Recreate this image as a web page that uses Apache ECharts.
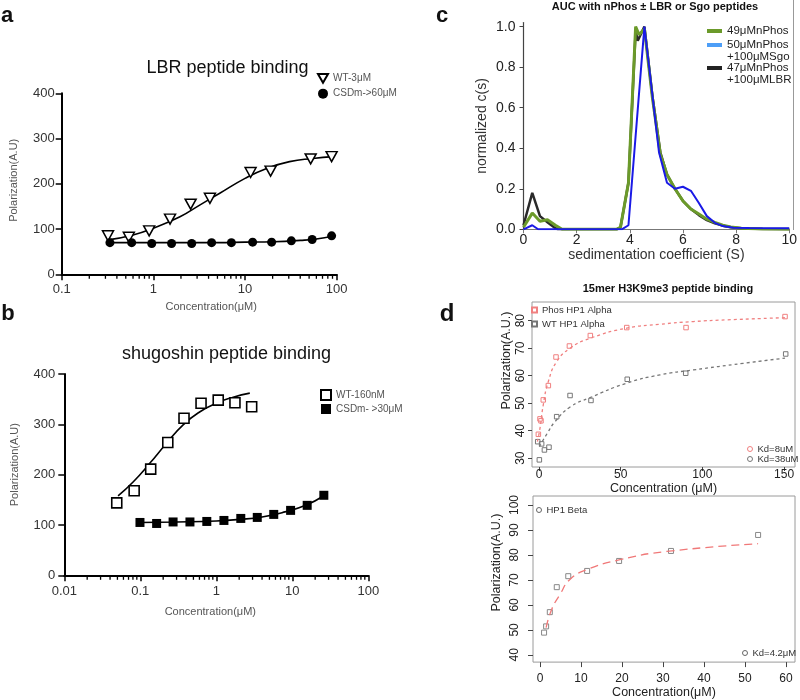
<!DOCTYPE html>
<html><head><meta charset="utf-8">
<script src="https://cdn.jsdelivr.net/npm/echarts@6/dist/echarts.min.js"></script>
<style>html,body{margin:0;padding:0;background:#fff}#c{width:800px;height:700px}</style>
</head><body><div id="c"></div>
<script>
// ---------- Panel a : LBR peptide binding ----------
const aWtX = [0.32, 0.54, 0.90, 1.52, 2.55, 4.14, 11.5, 19, 52, 88];
const aWtY = [85, 82, 96, 122, 155, 168, 225, 228, 255, 260];
const aWtFitX = [0.32, 0.6, 1, 1.95, 3.2, 5.3, 10, 17.2, 30.6, 55, 91];
const aWtFitY = [76, 87, 102, 127, 153, 179, 212, 234, 249, 256, 260];
const aMutX = [0.336, 0.58, 0.96, 1.58, 2.62, 4.32, 7.1, 12.1, 19.5, 32, 54, 88];
const aMutY = [70, 70, 68, 68, 68, 70, 70, 71, 71, 74, 77, 85];
const aMutFitX = [0.33, 1, 5, 10, 20, 40, 60, 90];
const aMutFitY = [70, 70, 70, 71, 72, 75, 78, 84];

// ---------- Panel b : shugoshin peptide binding ----------
const bWtX = [0.049, 0.083, 0.137, 0.23, 0.376, 0.63, 1.06, 1.76, 2.92];
const bWtY = [144, 168, 211, 264, 312, 342, 348, 343, 335];
const bWtFitX = [0.051, 0.081, 0.134, 0.22, 0.366, 0.61, 1.0, 1.67, 2.76];
const bWtFitY = [158, 186, 223, 262, 299, 325, 342, 354, 362];
const bMutX = [0.099, 0.164, 0.27, 0.45, 0.75, 1.26, 2.1, 3.46, 5.7, 9.5, 15.7, 26];
const bMutY = [105, 103, 106, 106, 107, 109, 113, 115, 121, 129, 139, 159];
const bMutFitX = [0.1, 0.3, 1, 2, 4, 8, 15, 26];
const bMutFitY = [105, 106, 108, 111, 116, 126, 139, 158];

// ---------- Panel c : AUC ----------
const cGreenX = [0, 0.33, 0.62, 0.9, 1.2, 1.45, 3.5, 3.65, 3.95, 4.22, 4.35, 4.55, 4.85, 5.15, 5.4, 5.7, 6.0, 6.3, 6.6, 6.9, 7.2, 7.5, 7.8, 8.2, 9, 10];
const cGreenY = [0.01, 0.08, 0.04, 0.047, 0.02, 0, 0, 0.01, 0.23, 1.0, 0.96, 0.99, 0.65, 0.37, 0.27, 0.2, 0.14, 0.1, 0.075, 0.05, 0.034, 0.02, 0.012, 0.005, 0.002, 0];
const cBlackX = [0, 0.33, 0.62, 0.9, 1.15, 1.3, 3.5, 3.65, 3.95, 4.22, 4.3, 4.55, 4.85, 5.15, 5.4, 5.7, 6.0, 6.3, 6.6, 6.9, 7.2, 7.5, 7.8, 8.2, 9, 10];
const cBlackY = [0.02, 0.18, 0.065, 0.035, 0.01, 0, 0, 0.01, 0.23, 0.98, 0.93, 1.0, 0.66, 0.38, 0.27, 0.2, 0.14, 0.1, 0.07, 0.045, 0.03, 0.018, 0.01, 0.005, 0.002, 0];
const cBlueX = [0, 0.33, 0.55, 3.7, 3.95, 4.55, 4.8, 5.1, 5.4, 5.7, 6.0, 6.3, 6.6, 6.9, 7.2, 7.5, 7.9, 8.5, 10];
const cBlueY = [0, 0.02, 0, 0, 0.02, 1.0, 0.72, 0.38, 0.23, 0.2, 0.21, 0.19, 0.13, 0.065, 0.032, 0.016, 0.008, 0.006, 0.005];

// ---------- Panel d (top) : HP1 alpha ----------
const dPhosX = [-0.4, 0.6, 1.2, 2.6, 5.7, 10.4, 18.6, 31.4, 53.7, 90, 150.6];
const dPhosY = [38.7, 44.3, 43.6, 51.2, 56.4, 66.8, 70.8, 74.6, 77.5, 77.5, 81.5];
const dPhosFitX = [-1, 0.6, 2.6, 5.7, 10.8, 19, 31.2, 53.7, 74, 94.5, 115, 150.6];
const dPhosFitY = [36, 40.9, 49.4, 57.9, 65.1, 70, 73.6, 77.3, 78.7, 79.7, 80.3, 81.1];
const dWtX = [-0.8, 0.2, 1.6, 3.3, 6.1, 10.8, 19, 31.8, 54, 89.8, 151];
const dWtY = [36, 29.4, 35.2, 33, 34, 45.1, 52.8, 51, 58.7, 60.9, 67.9];
const dWtFitX = [0.2, 5, 9.8, 19, 31.2, 53.7, 74, 94.5, 125, 150.6];
const dWtFitY = [34.2, 39, 43.3, 48.6, 52, 57.3, 60.3, 62.1, 64.5, 66.4];

// ---------- Panel d (bottom) : HP1 beta ----------
const eBetaX = [1.0, 1.5, 2.4, 4.1, 6.9, 11.5, 19.3, 31.95, 53.2];
const eBetaY = [48.9, 51.4, 57.1, 67.1, 71.5, 73.6, 77.6, 81.6, 88.0];
const eFitX = [1.5, 2.85, 4.9, 7.3, 11.4, 19.5, 30.9, 53.2];
const eFitY = [50.9, 58.2, 64.2, 70.2, 74.1, 78.1, 81.4, 84.5];

// tick positions
const cYTicks = [0, 0.2, 0.4, 0.6, 0.8, 1.0];
const dXTicks = [0, 50, 100, 150];
const dYTicks = [30, 40, 50, 60, 70, 80];
const eXTicks = [0, 10, 20, 30, 40, 50, 60];
const eYTicks = [40, 50, 60, 70, 80, 90, 100];
const aDecades = [0.1, 1, 10];
const bDecades = [0.01, 0.1, 1, 10];
const minorMult = [2, 3, 4, 5, 6, 7, 8, 9];

const FONT = 'Liberation Sans, Arial, Helvetica, sans-serif';
const DOWN_TRI = 'path://M0,0L2,0L1,1.732Z';
const zip = (xs, ys) => xs.map((x, i) => [x, ys[i]]);
const minorTicks = decs => decs.flatMap(d => minorMult.map(m => [+(d * m).toPrecision(3), 0]));

const chart = echarts.init(document.getElementById('c'));

const gpAxisLine = {show: true, onZero: false, lineStyle: {color: '#000', width: 2}};
const gpTick = {show: true, length: 6, lineStyle: {color: '#000', width: 1.5}};

function rX(grid, min, max, ticks, name, gap, tickLen, lblMargin) {
  return {
    gridIndex: grid, type: 'value', min: min, max: max,
    axisLine: {show: false, onZero: false},
    axisTick: {show: true, length: tickLen, customValues: ticks, lineStyle: {color: '#444'}},
    axisLabel: {customValues: ticks, fontSize: 12, color: '#222', margin: lblMargin, fontFamily: FONT},
    splitLine: {show: false},
    name: name, nameLocation: 'middle', nameGap: gap,
    nameTextStyle: {fontSize: 12.5, color: '#222', fontFamily: FONT}
  };
}
function rY(grid, min, max, ticks, name, gap, pad, tickLen, lblMargin) {
  return {
    gridIndex: grid, type: 'value', min: min, max: max,
    axisLine: {show: false, onZero: false},
    axisTick: {show: true, length: tickLen, customValues: ticks, lineStyle: {color: '#444'}},
    axisLabel: {customValues: ticks, fontSize: 12, color: '#222', margin: lblMargin, rotate: 90, fontFamily: FONT},
    splitLine: {show: false},
    name: name, nameLocation: 'middle', nameGap: gap, nameRotate: 90,
    nameTextStyle: {fontSize: 12.5, color: '#222', fontFamily: FONT, padding: [0, 0, 0, pad]}
  };
}
function minorSeries(ax, decs) {
  return {type: 'scatter', name: 'minor' + ax, xAxisIndex: ax, yAxisIndex: ax, data: minorTicks(decs),
    symbol: 'rect', symbolSize: [1.3, 4], symbolOffset: [0, 2.5], clip: false, silent: true,
    itemStyle: {color: '#000', opacity: 1}, z: 1};
}

const option = {
  animation: false,
  backgroundColor: '#fff',
  textStyle: {fontFamily: FONT},
  grid: [
    {left: 61.7, top: 93.3, width: 275, height: 181},
    {left: 64.3, top: 374, width: 304, height: 201.3},
    {left: 523.5, top: 22.6, width: 270, height: 206.7},
    {left: 532, top: 302, width: 263, height: 165, show: true, borderColor: '#9a9a9a', borderWidth: 1},
    {left: 533, top: 496, width: 262, height: 167, show: true, borderColor: '#9a9a9a', borderWidth: 1}
  ],
  xAxis: [
    {gridIndex: 0, type: 'log', logBase: 10, min: 0.1, max: 100,
     axisLine: gpAxisLine, axisTick: gpTick, splitLine: {show: false},
     axisLabel: {fontSize: 13, color: '#333', margin: 9},
     name: 'Concentration(μM)', nameLocation: 'middle', nameGap: 27,
     nameTextStyle: {fontSize: 11, color: '#555', padding: [0, 0, 0, 24]}},
    {gridIndex: 1, type: 'log', logBase: 10, min: 0.01, max: 100,
     axisLine: gpAxisLine, axisTick: gpTick, splitLine: {show: false},
     axisLabel: {fontSize: 13, color: '#333', margin: 10},
     name: 'Concentration(μM)', nameLocation: 'middle', nameGap: 31,
     nameTextStyle: {fontSize: 11, color: '#555', padding: [0, 12, 0, 0]}},
    {gridIndex: 2, type: 'value', min: 0, max: 10, interval: 2,
     axisLine: {show: true, onZero: false, lineStyle: {color: '#777', width: 1.2}},
     axisTick: {show: true, length: 4, lineStyle: {color: '#777'}},
     axisLabel: {fontSize: 14, color: '#222', margin: 4},
     splitLine: {show: false},
     name: 'sedimentation coefficient (S)', nameLocation: 'middle', nameGap: 13,
     nameTextStyle: {fontSize: 14, color: '#333'}},
    rX(3, -4.3, 156.7, dXTicks, 'Concentration (μM)', 8, 4, 2),
    rX(4, -1.7, 62.2, eXTicks, 'Concentration(μM)', 23, 5, 11)
  ],
  yAxis: [
    {gridIndex: 0, type: 'value', min: 0, max: 400, interval: 100,
     axisLine: gpAxisLine, axisTick: gpTick, splitLine: {show: false},
     axisLabel: {fontSize: 13, color: '#333', margin: 7},
     name: 'Polarization(A.U)', nameLocation: 'middle', nameGap: 42, nameRotate: 90,
     nameTextStyle: {fontSize: 11, color: '#555', padding: [0, 0, 0, 7]}},
    {gridIndex: 1, type: 'value', min: 0, max: 400, interval: 100,
     axisLine: gpAxisLine, axisTick: gpTick, splitLine: {show: false},
     axisLabel: {fontSize: 13, color: '#333', margin: 9},
     name: 'Polarization(A.U)', nameLocation: 'middle', nameGap: 44, nameRotate: 90,
     nameTextStyle: {fontSize: 11, color: '#555', padding: [0, 0, 0, 20]}},
    {gridIndex: 2, type: 'value', min: 0, max: 1.02,
     axisLine: {show: true, onZero: false, lineStyle: {color: '#444', width: 1.2}},
     axisTick: {show: true, length: 4, customValues: cYTicks, lineStyle: {color: '#444'}},
     axisLabel: {fontSize: 14, color: '#222', margin: 8, customValues: cYTicks, formatter: v => v.toFixed(1)},
     splitLine: {show: false},
     name: 'normalized c(s)', nameLocation: 'middle', nameGap: 34, nameRotate: 90,
     nameTextStyle: {fontSize: 14, color: '#333'}},
    rY(3, 26.8, 86.8, dYTicks, 'Polarization(A.U.)', 19, 48, 4, 5),
    rY(4, 37.1, 103.6, eYTicks, 'Polarization(A.U.)', 30, 33, 5, 12)
  ],
  legend: [
    {left: 317, top: 73, orient: 'vertical', itemWidth: 10, itemHeight: 10, itemGap: 5, padding: 0,
     textStyle: {fontSize: 10, color: '#555'}, data: ['WT-3μM', 'CSDm->60μM']},
    {left: 320, top: 389, orient: 'vertical', itemWidth: 10, itemHeight: 10, itemGap: 3, padding: 0,
     textStyle: {fontSize: 10, color: '#555'}, data: ['WT-160nM', 'CSDm- >30μM']},
    {left: 707, top: 25, itemWidth: 15, itemHeight: 4, itemGap: 5, padding: 0,
     textStyle: {fontSize: 11.5, color: '#222'},
     data: [{name: '49μMnPhos', icon: 'rect', itemStyle: {color: '#6b9a2a'}}]},
    {left: 707, top: 39, itemWidth: 15, itemHeight: 4, itemGap: 5, padding: 0,
     textStyle: {fontSize: 11.5, color: '#222'},
     data: [{name: '50μMnPhos', icon: 'rect', itemStyle: {color: '#4d9ef7'}}]},
    {left: 707, top: 62, itemWidth: 15, itemHeight: 4, itemGap: 5, padding: 0,
     textStyle: {fontSize: 11.5, color: '#222'},
     data: [{name: '47μMnPhos', icon: 'rect', itemStyle: {color: '#222'}}]},
    {left: 531, top: 305, orient: 'vertical', itemWidth: 5, itemHeight: 5, itemGap: 4, padding: 0,
     textStyle: {fontSize: 9.5, color: '#333'}, data: ['Phos HP1 Alpha', 'WT HP1 Alpha']},
    {left: 747, top: 444, orient: 'vertical', itemWidth: 5, itemHeight: 5, itemGap: 0, padding: 0,
     textStyle: {fontSize: 9.5, color: '#333', lineHeight: 8},
     data: [{name: 'Kd=8uM', icon: 'circle', itemStyle: {color: 'rgba(0,0,0,0)', borderColor: '#f08080', borderWidth: 1}},
            {name: 'Kd=38uM', icon: 'circle', itemStyle: {color: 'rgba(0,0,0,0)', borderColor: '#777', borderWidth: 1}}]},
    {left: 536, top: 505, itemWidth: 5, itemHeight: 5, padding: 0,
     textStyle: {fontSize: 9.5, color: '#333'},
     data: [{name: 'HP1 Beta', icon: 'circle', itemStyle: {color: 'rgba(0,0,0,0)', borderColor: '#666', borderWidth: 1}}]},
    {left: 742, top: 648, itemWidth: 5, itemHeight: 5, padding: 0,
     textStyle: {fontSize: 9.5, color: '#333'},
     data: [{name: 'Kd=4.2μM', icon: 'circle', itemStyle: {color: 'rgba(0,0,0,0)', borderColor: '#666', borderWidth: 1}}]}
  ],
  series: [
    // a
    minorSeries(0, aDecades),
    {type: 'line', name: 'aWtFit', xAxisIndex: 0, yAxisIndex: 0, data: zip(aWtFitX, aWtFitY), smooth: true, showSymbol: false, lineStyle: {color: '#000', width: 1.6}, z: 2},
    {type: 'line', name: 'aMutFit', xAxisIndex: 0, yAxisIndex: 0, data: zip(aMutFitX, aMutFitY), smooth: true, showSymbol: false, lineStyle: {color: '#000', width: 1.6}, z: 2},
    {type: 'scatter', name: 'WT-3μM', xAxisIndex: 0, yAxisIndex: 0, data: zip(aWtX, aWtY), symbol: DOWN_TRI, symbolSize: [11, 10],
     itemStyle: {color: '#fff', borderColor: '#000', borderWidth: 1.5, opacity: 1}, z: 5},
    {type: 'scatter', name: 'CSDm->60μM', xAxisIndex: 0, yAxisIndex: 0, data: zip(aMutX, aMutY), symbol: 'circle', symbolSize: 9,
     itemStyle: {color: '#000', opacity: 1}, z: 5},
    // b
    minorSeries(1, bDecades),
    {type: 'line', name: 'bWtFit', xAxisIndex: 1, yAxisIndex: 1, data: zip(bWtFitX, bWtFitY), smooth: true, showSymbol: false, lineStyle: {color: '#000', width: 1.6}, z: 2},
    {type: 'line', name: 'bMutFit', xAxisIndex: 1, yAxisIndex: 1, data: zip(bMutFitX, bMutFitY), smooth: true, showSymbol: false, lineStyle: {color: '#000', width: 1.6}, z: 2},
    {type: 'scatter', name: 'WT-160nM', xAxisIndex: 1, yAxisIndex: 1, data: zip(bWtX, bWtY), symbol: 'rect', symbolSize: 10,
     itemStyle: {color: '#fff', borderColor: '#000', borderWidth: 1.6, opacity: 1}, z: 5},
    {type: 'scatter', name: 'CSDm- >30μM', xAxisIndex: 1, yAxisIndex: 1, data: zip(bMutX, bMutY), symbol: 'rect', symbolSize: 9,
     itemStyle: {color: '#000', opacity: 1}, z: 5},
    // c
    {type: 'line', name: '47μMnPhos', xAxisIndex: 2, yAxisIndex: 2, data: zip(cBlackX, cBlackY), showSymbol: false, lineStyle: {color: '#2a2a2a', width: 2.5}, z: 2},
    {type: 'line', name: '49μMnPhos', xAxisIndex: 2, yAxisIndex: 2, data: zip(cGreenX, cGreenY), showSymbol: false, lineStyle: {color: '#6b9a2a', width: 3}, z: 3},
    {type: 'line', name: '50μMnPhos', xAxisIndex: 2, yAxisIndex: 2, data: zip(cBlueX, cBlueY), showSymbol: false, lineStyle: {color: '#1a1ae6', width: 2}, z: 4},
    // d top
    {type: 'line', name: 'Kd=8uM', xAxisIndex: 3, yAxisIndex: 3, data: zip(dPhosFitX, dPhosFitY), smooth: true, showSymbol: false,
     lineStyle: {color: '#f08080', width: 1.3, type: [3, 3]}},
    {type: 'line', name: 'Kd=38uM', xAxisIndex: 3, yAxisIndex: 3, data: zip(dWtFitX, dWtFitY), smooth: true, showSymbol: false,
     lineStyle: {color: '#777', width: 1.3, type: [3, 3]}},
    {type: 'scatter', name: 'Phos HP1 Alpha', xAxisIndex: 3, yAxisIndex: 3, data: zip(dPhosX, dPhosY), symbol: 'rect', symbolSize: 4.5,
     itemStyle: {color: 'rgba(0,0,0,0)', borderColor: '#f08080', borderWidth: 1, opacity: 1}},
    {type: 'scatter', name: 'WT HP1 Alpha', xAxisIndex: 3, yAxisIndex: 3, data: zip(dWtX, dWtY), symbol: 'rect', symbolSize: 4.5,
     itemStyle: {color: 'rgba(0,0,0,0)', borderColor: '#777', borderWidth: 1, opacity: 1}},
    // d bottom
    {type: 'line', name: 'Kd=4.2μM', xAxisIndex: 4, yAxisIndex: 4, data: zip(eFitX, eFitY), smooth: true, showSymbol: false,
     lineStyle: {color: '#f07878', width: 1.3, type: [8, 5]}},
    {type: 'scatter', name: 'HP1 Beta', xAxisIndex: 4, yAxisIndex: 4, data: zip(eBetaX, eBetaY), symbol: 'rect', symbolSize: 5,
     itemStyle: {color: 'rgba(0,0,0,0)', borderColor: '#888', borderWidth: 1, opacity: 1}}
  ],
  graphic: [
    {type: 'text', x: 7, y: 16.4, style: {text: 'a', font: 'bold 22px ' + FONT, fill: '#111', align: 'center', verticalAlign: 'middle', textAlign: 'center', textVerticalAlign: 'middle'}},
    {type: 'text', x: 227.5, y: 67.7, style: {text: 'LBR peptide binding', font: '18px ' + FONT, fill: '#111', align: 'center', verticalAlign: 'middle', textAlign: 'center', textVerticalAlign: 'middle'}},
    {type: 'text', x: 8, y: 314.4, style: {text: 'b', font: 'bold 22px ' + FONT, fill: '#111', align: 'center', verticalAlign: 'middle', textAlign: 'center', textVerticalAlign: 'middle'}},
    {type: 'text', x: 226.5, y: 353.7, style: {text: 'shugoshin peptide binding', font: '18px ' + FONT, fill: '#111', align: 'center', verticalAlign: 'middle', textAlign: 'center', textVerticalAlign: 'middle'}},
    {type: 'text', x: 442, y: 16.4, style: {text: 'c', font: 'bold 22px ' + FONT, fill: '#111', align: 'center', verticalAlign: 'middle', textAlign: 'center', textVerticalAlign: 'middle'}},
    {type: 'text', x: 655, y: 6.5, style: {text: 'AUC with nPhos ± LBR or Sgo peptides', font: 'bold 11px ' + FONT, fill: '#111', align: 'center', verticalAlign: 'middle', textAlign: 'center', textVerticalAlign: 'middle'}},
    {type: 'text', x: 727, y: 57, style: {text: '+100μMSgo', font: '11.5px ' + FONT, fill: '#222', align: 'left', verticalAlign: 'middle', textAlign: 'left', textVerticalAlign: 'middle'}},
    {type: 'text', x: 727, y: 80, style: {text: '+100μMLBR', font: '11.5px ' + FONT, fill: '#222', align: 'left', verticalAlign: 'middle', textAlign: 'left', textVerticalAlign: 'middle'}},
    {type: 'line', shape: {x1: 793.5, y1: 0, x2: 793.5, y2: 230}, style: {stroke: '#999', lineWidth: 1}},
    {type: 'text', x: 447, y: 314.6, style: {text: 'd', font: 'bold 24px ' + FONT, fill: '#111', align: 'center', verticalAlign: 'middle', textAlign: 'center', textVerticalAlign: 'middle'}},
    {type: 'text', x: 668, y: 288.8, style: {text: '15mer H3K9me3 peptide binding', font: 'bold 11px ' + FONT, fill: '#111', align: 'center', verticalAlign: 'middle', textAlign: 'center', textVerticalAlign: 'middle'}}
  ]
};
chart.setOption(option);
</script>
</body></html>
